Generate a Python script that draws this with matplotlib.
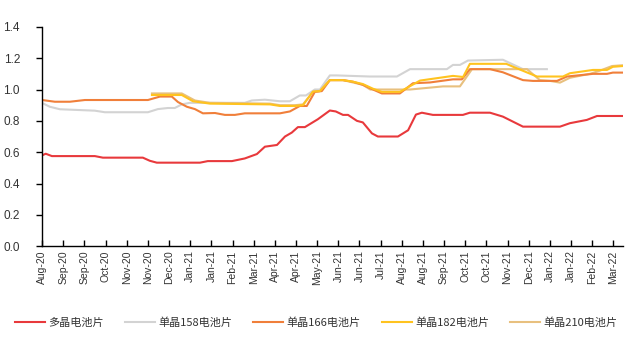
import matplotlib
matplotlib.use("Agg")
import matplotlib.pyplot as plt

plt.rcParams['font.family'] = ['Noto Sans CJK SC', 'DejaVu Sans']

tick_labels = ["Aug-20", "Sep-20", "Sep-20", "Oct-20", "Nov-20", "Nov-20", "Dec-20",
               "Jan-21", "Jan-21", "Feb-21", "Mar-21", "Apr-21", "Apr-21", "May-21",
               "Jun-21", "Jun-21", "Jul-21", "Aug-21", "Aug-21", "Sep-21", "Oct-21",
               "Oct-21", "Nov-21", "Dec-21", "Jan-22", "Jan-22", "Feb-22", "Mar-22"]

# x positions in tick-interval units
poly_x = [0, 0.17, 0.46, 2.49, 2.87, 4.76, 5.09, 5.42, 7.46, 7.83, 8.97, 9.58, 10.15, 10.53,
          11.1, 11.48, 11.8, 12.09, 12.42, 13.03, 13.6, 13.88, 14.22, 14.46, 14.88, 15.16,
          15.59, 15.87, 16.82, 17.3, 17.67, 17.95, 18.47, 19.89, 20.22, 21.17, 21.78, 22.73,
          24.48, 24.95, 25.75, 26.23, 27.46]
poly_y = [0.58, 0.59, 0.575, 0.575, 0.565, 0.565, 0.545, 0.533, 0.533, 0.543, 0.543, 0.56,
          0.588, 0.635, 0.646, 0.70, 0.725, 0.76, 0.76, 0.81, 0.866, 0.86, 0.838, 0.838,
          0.80, 0.79, 0.72, 0.70, 0.70, 0.74, 0.84, 0.852, 0.838, 0.838, 0.852, 0.852,
          0.827, 0.763, 0.763, 0.785, 0.806, 0.831, 0.831]

m158_x = [0, 0.36, 0.84, 2.49, 2.96, 5.0, 5.47, 5.94, 6.27, 6.6, 6.98, 9.58, 9.91, 10.53,
          11.24, 11.71, 12.18, 12.47, 12.89, 13.13, 13.6, 13.93, 15.49, 16.77, 17.39, 19.13,
          19.42, 19.75, 20.13, 21.78, 22.73, 23.86]
m158_y = [0.914, 0.89, 0.874, 0.865, 0.855, 0.855, 0.875, 0.882, 0.882, 0.905, 0.915, 0.915,
          0.93, 0.935, 0.925, 0.925, 0.962, 0.962, 1.0, 1.0, 1.09, 1.09, 1.083, 1.083, 1.13,
          1.13, 1.157, 1.157, 1.185, 1.19, 1.13, 1.13]

m166_x = [0, 0.6, 1.31, 2.02, 5.0, 5.57, 6.13, 6.42, 6.84, 7.22, 7.6, 8.17, 8.64, 9.11, 9.58,
          11.24, 11.71, 12.18, 12.51, 12.89, 13.22, 13.6, 14.22, 14.69, 15.16, 15.64, 16.06,
          16.91, 17.53, 18.33, 19.42, 19.84, 20.22, 21.17, 21.78, 22.73, 23.2, 24.34, 24.81,
          26.04, 26.7, 26.98, 27.46]
m166_y = [0.933, 0.922, 0.922, 0.933, 0.933, 0.955, 0.955, 0.92, 0.89, 0.875, 0.848, 0.85,
          0.838, 0.838, 0.848, 0.848, 0.86, 0.895, 0.895, 0.985, 0.99, 1.06, 1.06, 1.05, 1.03,
          1.0, 0.975, 0.975, 1.04, 1.045, 1.065, 1.065, 1.13, 1.13, 1.11, 1.06, 1.055, 1.055,
          1.083, 1.10, 1.10, 1.108, 1.108]

m182_x = [5.19, 6.6, 7.13, 7.93, 10.77, 11.24, 11.95, 12.33, 12.8, 13.13, 13.6, 14.22, 14.69,
          15.16, 15.64, 16.06, 16.91, 17.86, 19.42, 19.9, 20.22, 21.94, 22.27, 23.39, 24.62,
          24.95, 26.04, 26.7, 26.98, 27.46]
m182_y = [0.965, 0.965, 0.925, 0.91, 0.905, 0.895, 0.895, 0.90, 0.987, 0.99, 1.06, 1.06, 1.05,
          1.035, 1.005, 0.985, 0.985, 1.057, 1.087, 1.08, 1.164, 1.164, 1.145, 1.083, 1.083,
          1.104, 1.125, 1.125, 1.145, 1.15]

m210_x = [5.19, 6.6, 7.22, 7.93, 10.77, 11.24, 11.95, 12.33, 12.8, 13.13, 13.6, 14.22, 14.69,
          15.16, 15.51, 17.39, 18.95, 19.75, 20.32, 22.92, 23.53, 24.01, 24.48, 24.95, 25.89,
          26.36, 26.94, 27.46]
m210_y = [0.975, 0.975, 0.93, 0.915, 0.91, 0.90, 0.90, 0.905, 0.985, 0.99, 1.06, 1.06, 1.045,
          1.03, 1.0, 1.0, 1.02, 1.02, 1.13, 1.13, 1.06, 1.055, 1.044, 1.075, 1.10, 1.12, 1.15,
          1.155]

names = ["多晶电池片", "单晶158电池片", "单晶166电池片", "单晶182电池片", "单晶210电池片"]
colors = ["#E8393C", "#D3D3D3", "#F07F3A", "#FFC31F", "#E8C07E"]

fig = plt.figure(figsize=(6.39, 3.40), dpi=100)
ax = fig.add_axes([0.066, 0.276, 0.909, 0.645])

series = [(poly_x, poly_y), (m158_x, m158_y), (m166_x, m166_y), (m182_x, m182_y), (m210_x, m210_y)]
order = [1, 4, 2, 3, 0]
handles = {}
for i in order:
    xs, ys = series[i]
    h, = ax.plot(xs, ys, color=colors[i], lw=1.5, label=names[i])
    handles[i] = h

ax.set_xlim(0, 27.46)
ax.set_ylim(0, 1.4)
yt = [0, 0.2, 0.4, 0.6, 0.8, 1.0, 1.2, 1.4]
ax.set_yticks(yt)
ax.set_yticklabels([f"{v:.1f}" for v in yt],
                   fontsize=8.5, family=['Liberation Sans', 'DejaVu Sans'], color="#333333")
ax.set_xticks(range(len(tick_labels)))
ax.set_xticklabels(tick_labels, rotation=90, fontsize=7.5,
                   family=['Liberation Sans', 'DejaVu Sans'], color="#333333")
ax.tick_params(axis='y', direction='out', length=4, width=1, pad=12)
ax.tick_params(axis='x', direction='in', length=4, width=1, pad=3)
for s in ["top", "right"]:
    ax.spines[s].set_visible(False)
for s in ["left", "bottom"]:
    ax.spines[s].set_color("black")
    ax.spines[s].set_linewidth(1)

leg = fig.legend([handles[i] for i in range(5)], names, loc="center left",
                 bbox_to_anchor=(0.023, 0.052), ncol=5, frameon=False, fontsize=8,
                 handlelength=2.7, handletextpad=0.3, columnspacing=1.9,
                 borderaxespad=0, borderpad=0)
for t in leg.get_texts():
    t.set_color("#333333")

fig.savefig("out.png", dpi=100)
